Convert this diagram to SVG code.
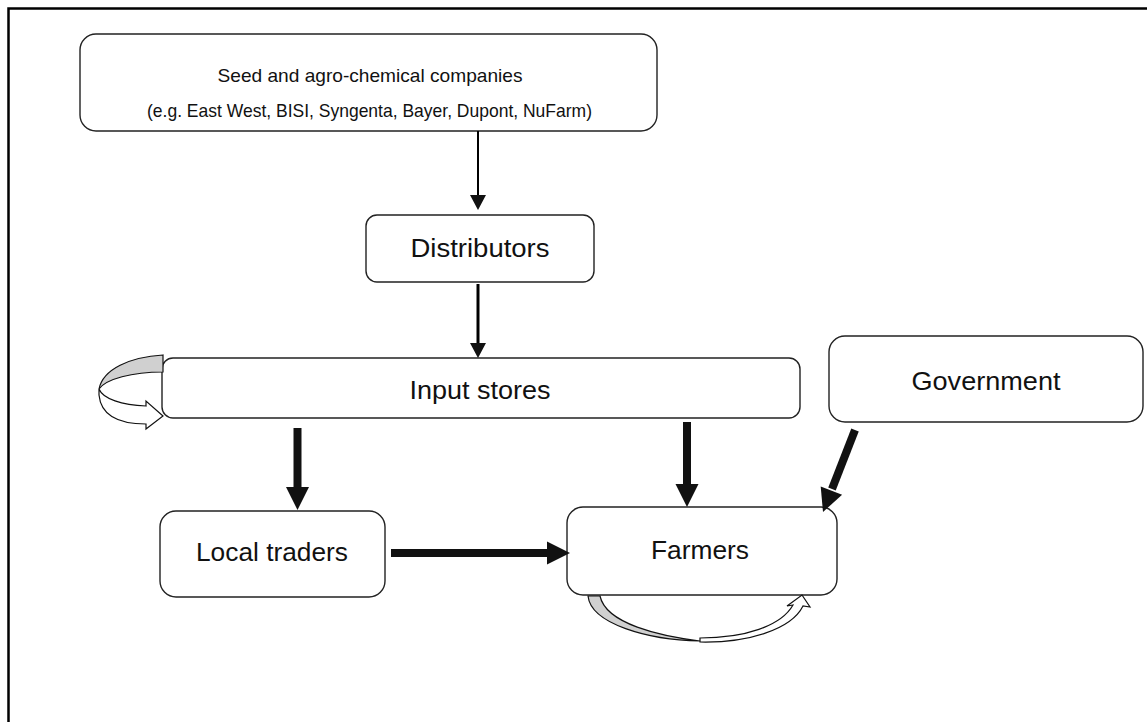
<svg xmlns="http://www.w3.org/2000/svg" width="1147" height="722" viewBox="0 0 1147 722">
<style>
.box{fill:#fff;stroke:#222;stroke-width:1.4}
.t{font-family:"Liberation Sans",Arial,sans-serif;font-size:26px;fill:#111;text-anchor:middle}
.s{font-size:18.5px}
.thin{stroke:#000;stroke-width:2;fill:none}
.thick{stroke:#111;stroke-width:8;fill:none}
.head{fill:#111;stroke:none}
.loopg{fill:#d0d0d0;stroke:#111;stroke-width:1.2}
.loopw{fill:#fff;stroke:#111;stroke-width:1.2}
</style>
<rect width="1147" height="722" fill="#fff"/>
<path d="M8.5,722 L8.5,8.5 L1147,8.5" fill="none" stroke="#000" stroke-width="2.5"/>
<g id="seed-companies">
<rect class="box" x="80" y="34" width="577" height="97" rx="16"/>
<text class="t s" x="370" y="82" textLength="305" lengthAdjust="spacingAndGlyphs">Seed and agro-chemical companies</text>
<text class="t s" x="369.5" y="117" textLength="445" lengthAdjust="spacingAndGlyphs">(e.g. East West, BISI, Syngenta, Bayer, Dupont, NuFarm)</text>
</g>
<g id="distributors">
<rect class="box" x="366" y="215" width="228" height="67" rx="11"/>
<text class="t" x="480" y="257" textLength="139" lengthAdjust="spacingAndGlyphs">Distributors</text>
</g>
<g id="input-stores">
<rect class="box" x="162" y="358" width="638" height="60" rx="11"/>
<text class="t" x="480" y="399" textLength="141" lengthAdjust="spacingAndGlyphs">Input stores</text>
</g>
<g id="government">
<rect class="box" x="829" y="336" width="314" height="86" rx="16"/>
<text class="t" x="986" y="390" textLength="149" lengthAdjust="spacingAndGlyphs">Government</text>
</g>
<g id="local-traders">
<rect class="box" x="160" y="511" width="225" height="86" rx="16"/>
<text class="t" x="272" y="561" textLength="152" lengthAdjust="spacingAndGlyphs">Local traders</text>
</g>
<g id="farmers">
<rect class="box" x="567" y="507" width="270" height="88" rx="16"/>
<text class="t" x="700" y="559" textLength="98" lengthAdjust="spacingAndGlyphs">Farmers</text>
</g>
<g id="connectors">
<line class="thin" x1="478" y1="131" x2="478" y2="197"/>
<polygon class="head" points="470,195 486,195 478,210"/>
<line class="thin" x1="478" y1="284" x2="478" y2="345" style="stroke-width:3"/>
<polygon class="head" points="470,343 486,343 478,358"/>
<line class="thick" x1="297.5" y1="428" x2="297.5" y2="489"/>
<polygon class="head" points="286,487 309,487 297.5,510"/>
<line class="thick" x1="687" y1="422" x2="687" y2="486"/>
<polygon class="head" points="675.5,484 698.5,484 687,507"/>
<line class="thick" x1="391" y1="553" x2="549" y2="553"/>
<polygon class="head" points="547,541.5 547,564.5 570,553"/>
<line class="thick" x1="855" y1="430" x2="832" y2="489"/>
<polygon class="head" points="842.1,494.8 820.7,486.4 823,512"/>
<path class="loopg" d="M163,355 C130,357 103,369 99,389 C106,379 132,372 163,372 Z"/>
<path class="loopw" d="M99,389 C103,399 122,405 146,406 L146,401 L163,416 L146,429 L146,424 C120,424 101,416 99,395 Z"/>
<path class="loopg" d="M588,596 C591,624 648,640 700,641 C660,636 606,624 600,596 Z"/>
<path class="loopw" d="M700,638 C745,638 781,626 793,605 L787,606 L802,595 L810,607 L803,606 C791,630 747,643 700,642 Z"/>
</g>
</svg>
